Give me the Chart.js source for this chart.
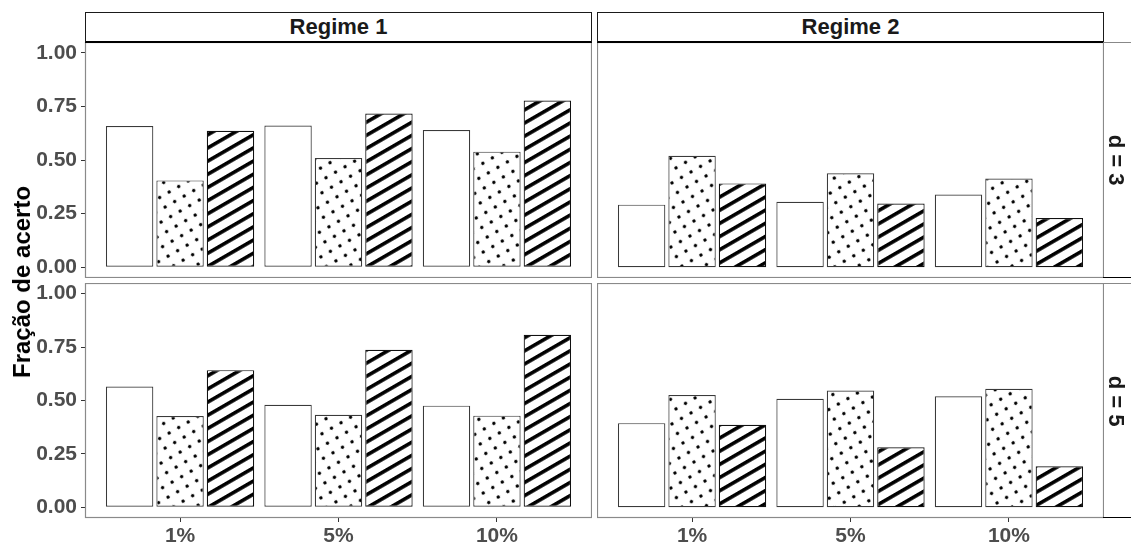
<!DOCTYPE html>
<html>
<head>
<meta charset="utf-8">
<script src="https://cdn.jsdelivr.net/npm/chart.js@4.4.1/dist/chart.umd.min.js"></script>
<style>
  body { margin: 0; background: #fff; }
  #wrap { position: relative; width: 1131px; height: 545px; overflow: hidden; background: #fff;
          font-family: "Liberation Sans", Arial, sans-serif; }
  canvas { position: absolute; }
  .strip-top { position: absolute; top: 12px; height: 31px; box-sizing: border-box;
               border: 1px solid #1a1a1a; border-bottom: 2px solid #000; background: #fff;
               display: flex; align-items: center; justify-content: center;
               font-weight: bold; font-size: 22px; color: #1a1a1a; }
  .strip-right { position: absolute; left: 1103px; width: 40px; box-sizing: border-box;
                 border-top: 1px solid #888; border-bottom: 1px solid #000; }
  .strip-right span { position: absolute; left: 13px; top: 50%; transform: translate(-50%, -50%) rotate(90deg);
                      white-space: nowrap; font-weight: bold; font-size: 22px; color: #1a1a1a; line-height: 1; }
  #ytitle { position: absolute; left: 22px; top: 282px; transform: translate(-50%, -50%) rotate(-90deg);
            white-space: nowrap; font-weight: bold; font-size: 24px; color: #000; line-height: 1; }
</style>
</head>
<body>
<div id="wrap">
  <canvas id="p11" width="592" height="236" style="left:0px;top:42px"></canvas>
  <canvas id="p12" width="507" height="236" style="left:597px;top:42px"></canvas>
  <canvas id="p21" width="592" height="262" style="left:0px;top:283px"></canvas>
  <canvas id="p22" width="507" height="262" style="left:597px;top:283px"></canvas>
  <div id="s1" class="strip-top" style="left:85px;width:507px"></div>
  <div id="s2" class="strip-top" style="left:597px;width:507px"></div>
  <div id="r1" class="strip-right" style="top:42px;height:236px"><span></span></div>
  <div id="r2" class="strip-right" style="top:283px;height:235px"><span></span></div>
  <div id="ytitle"></div>
</div>
<script>
const categories = ['1%', '5%', '10%'];
const regimes = ['Regime 1', 'Regime 2'];
const dims = ['d = 3', 'd = 5'];
const yTicks = [0, 0.25, 0.5, 0.75, 1];
const yTitle = 'Fração de acerto';

// bar heights, one array per fill: white, dotted, striped
const r1d3White = [0.658, 0.661, 0.640];
const r1d3Dots = [0.405, 0.509, 0.539];
const r1d3Stripes = [0.636, 0.717, 0.777];
const r2d3White = [0.292, 0.305, 0.339];
const r2d3Dots = [0.520, 0.438, 0.414];
const r2d3Stripes = [0.391, 0.297, 0.230];
const r1d5White = [0.565, 0.480, 0.476];
const r1d5Dots = [0.427, 0.433, 0.429];
const r1d5Stripes = [0.642, 0.737, 0.808];
const r2d5White = [0.394, 0.508, 0.520];
const r2d5Dots = [0.526, 0.547, 0.555];
const r2d5Stripes = [0.386, 0.281, 0.192];

const FONT = '"Liberation Sans", Arial, sans-serif';

document.getElementById('s1').textContent = regimes[0];
document.getElementById('s2').textContent = regimes[1];
document.querySelector('#r1 span').textContent = dims[0];
document.querySelector('#r2 span').textContent = dims[1];
document.getElementById('ytitle').textContent = yTitle;

// striped fill, lines going up to the right
function stripePattern(ctx) {
    const tile = document.createElement('canvas');
    tile.width = 12; tile.height = 12;
    const t = tile.getContext('2d');
    t.fillStyle = '#fff';
    t.fillRect(0, 0, 12, 12);
    t.fillStyle = '#000';
    t.fillRect(0, 0, 12, 3.8);
    const p = ctx.createPattern(tile, 'repeat');
    p.setTransform(new DOMMatrix().rotateSelf(-30).scaleSelf(0.95));
    return p;
}

// dotted fill
function dotPattern(ctx) {
    const tile = document.createElement('canvas');
    tile.width = 11; tile.height = 11;
    const t = tile.getContext('2d');
    t.fillStyle = '#fff';
    t.fillRect(0, 0, 11, 11);
    t.fillStyle = '#000';
    t.beginPath();
    t.arc(5.5, 5.5, 1.7, 0, Math.PI * 2);
    t.fill();
    const p = ctx.createPattern(tile, 'repeat');
    p.setTransform(new DOMMatrix().rotateSelf(-30));
    return p;
}

const panelBorder = {
    id: 'panelBorder',
    afterDraw(chart) {
        const { ctx, chartArea: a } = chart;
        ctx.save();
        ctx.strokeStyle = '#8a8a8a';
        ctx.lineWidth = 1.2;
        ctx.strokeRect(a.left + 0.5, a.top + 0.5, a.width - 1, a.height - 1);
        ctx.restore();
    }
};

function makePanel(id, white, dots, stripes, showY, showX) {
    const ctx = document.getElementById(id).getContext('2d');
    const toPts = arr => arr.map((v, i) => ({ x: i, y: v }));
    new Chart(ctx, {
        type: 'bar',
        data: {
            datasets: [
                { data: toPts(white), backgroundColor: '#ffffff', borderColor: '#3a3a3a' },
                { data: toPts(dots), backgroundColor: dotPattern(ctx), borderColor: '#3a3a3a' },
                { data: toPts(stripes), backgroundColor: stripePattern(ctx), borderColor: '#111' }
            ]
        },
        options: {
            responsive: false,
            animation: false,
            events: [],
            layout: { padding: 0 },
            datasets: {
                bar: { borderWidth: 1.2, borderSkipped: false, categoryPercentage: 0.955, barPercentage: 0.94 }
            },
            plugins: {
                legend: { display: false },
                tooltip: { enabled: false }
            },
            scales: {
                x: {
                    type: 'linear',
                    min: -0.6,
                    max: 2.6,
                    offset: false,
                    afterBuildTicks: s => { s.ticks = categories.map((c, i) => ({ value: i })); },
                    afterFit: s => { s.height = showX ? 27 : 0; s.paddingLeft = 0; s.paddingRight = 0; },
                    grid: { display: showX, offset: false, drawOnChartArea: false, tickLength: 4, color: '#333' },
                    border: { display: false },
                    ticks: {
                        display: showX,
                        autoSkip: false,
                        maxRotation: 0,
                        padding: 2,
                        color: '#4d4d4d',
                        font: { family: FONT, size: 21, weight: 'bold' },
                        callback: v => categories[Math.round(v)]
                    }
                },
                y: {
                    min: -0.05,
                    max: 1.05,
                    afterBuildTicks: s => { s.ticks = yTicks.map(v => ({ value: v })); },
                    afterFit: s => { s.width = showY ? 85 : 0; s.paddingTop = 0; s.paddingBottom = 0; },
                    grid: { display: showY, drawOnChartArea: false, tickLength: 4, color: '#333' },
                    border: { display: false },
                    ticks: {
                        display: showY,
                        padding: 4,
                        color: '#4d4d4d',
                        font: { family: FONT, size: 21, weight: 'bold' },
                        callback: v => v.toFixed(2)
                    }
                }
            }
        },
        plugins: [panelBorder]
    });
}

makePanel('p11', r1d3White, r1d3Dots, r1d3Stripes, true, false);
makePanel('p12', r2d3White, r2d3Dots, r2d3Stripes, false, false);
makePanel('p21', r1d5White, r1d5Dots, r1d5Stripes, true, true);
makePanel('p22', r2d5White, r2d5Dots, r2d5Stripes, false, true);
</script>
</body>
</html>
